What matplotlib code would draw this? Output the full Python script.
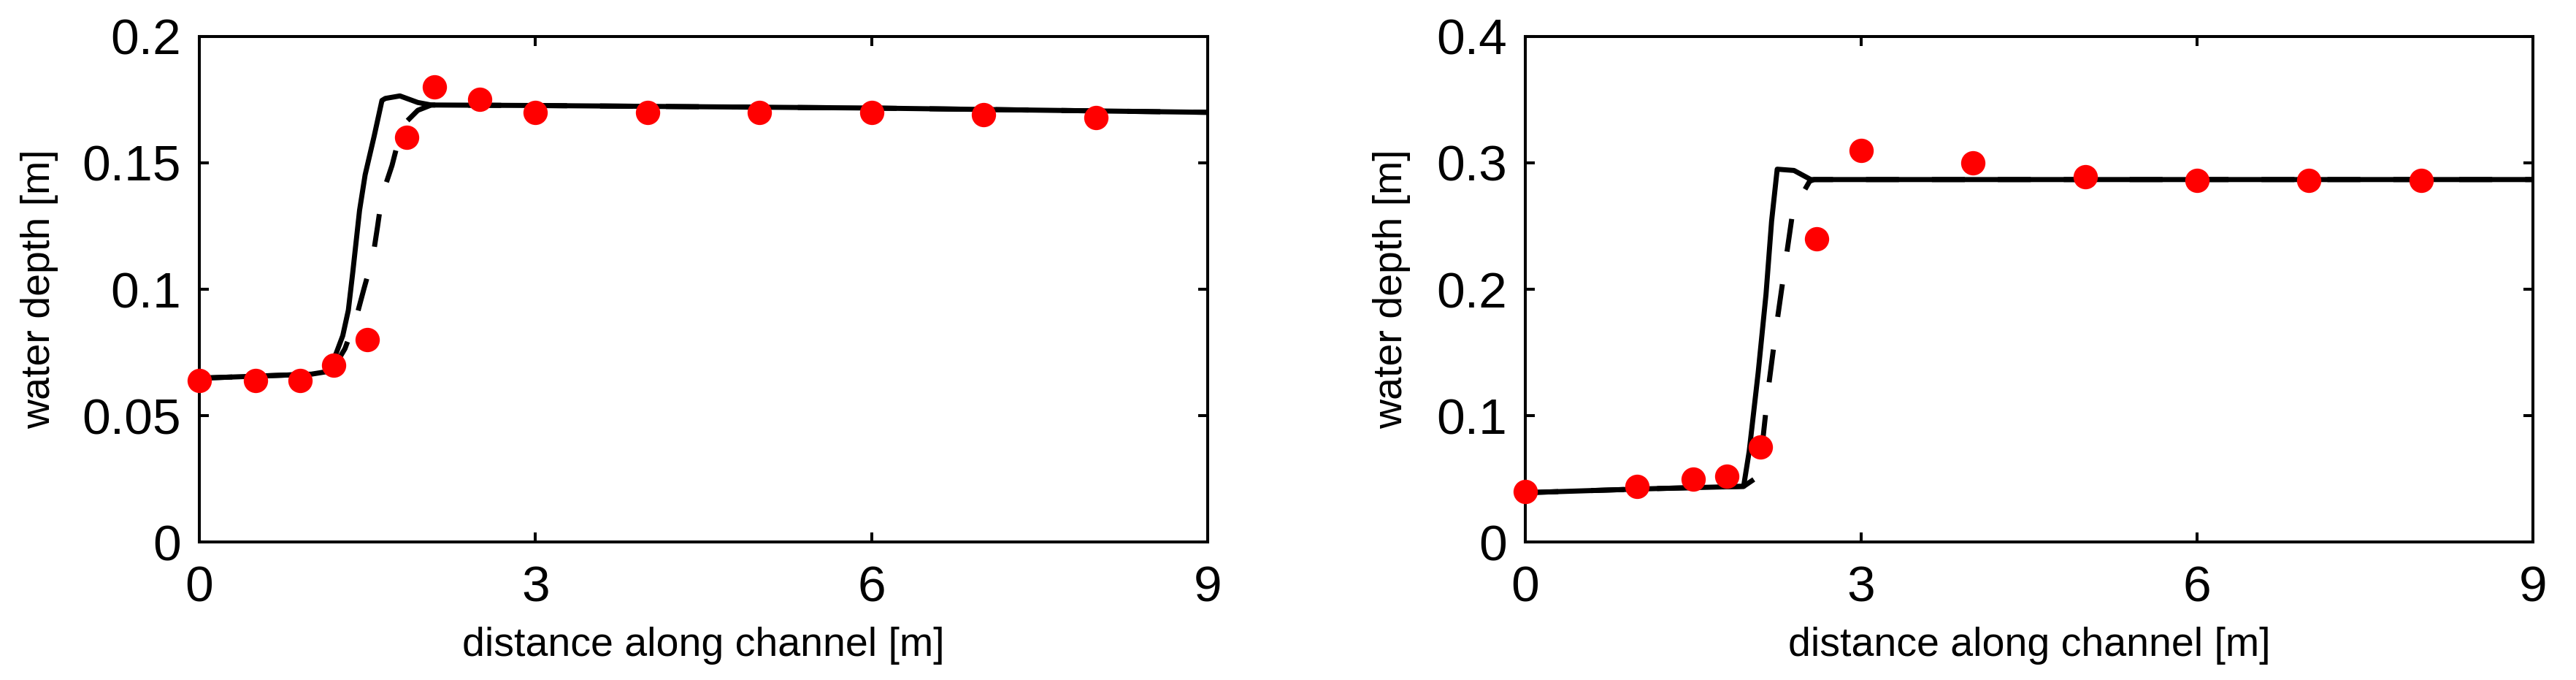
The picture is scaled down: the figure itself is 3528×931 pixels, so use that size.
import matplotlib
matplotlib.use("Agg")
import matplotlib.pyplot as plt

plt.rcParams['font.family'] = ['Liberation Sans', 'DejaVu Sans']

# left case: measured depths (red dots)
x_obs_a = [0, 0.5, 0.9, 1.2, 1.5, 1.85, 2.1, 2.5, 3, 4, 5, 6, 7, 8]
h_obs_a = [0.064, 0.064, 0.064, 0.070, 0.080, 0.160, 0.180, 0.175,
           0.170, 0.170, 0.170, 0.170, 0.169, 0.168]

# left case: model (solid)
x_sol_a = [0, 1.0, 1.14, 1.22, 1.28, 1.33, 1.37, 1.43, 1.48, 1.56, 1.63,
           1.66, 1.79, 1.95, 2.07, 3, 6, 9]
h_sol_a = [0.0648, 0.0664, 0.0674, 0.0745, 0.0816, 0.0917, 0.1069, 0.1312,
           0.1453, 0.1605, 0.1747, 0.1755, 0.1765, 0.1739, 0.1729, 0.1727,
           0.1717, 0.1700]

# left case: model (dashed)
x_dsh_a = [0, 1.0, 1.2, 1.3, 1.4, 1.47, 1.55, 1.59, 1.63, 1.72, 1.81, 1.95,
           2.07, 3, 6, 9]
h_dsh_a = [0.0648, 0.0664, 0.0690, 0.0765, 0.0887, 0.1003, 0.113, 0.1246,
           0.137, 0.149, 0.1646, 0.1708, 0.1729, 0.1727, 0.1717, 0.1700]

# right case: measured depths
x_obs_b = [0, 1.0, 1.5, 1.8, 2.1, 2.6, 3, 4, 5, 6, 7, 8]
h_obs_b = [0.040, 0.044, 0.050, 0.052, 0.075, 0.240, 0.310, 0.300,
           0.289, 0.286, 0.286, 0.286]

# right case: model (solid)
x_sol_b = [0, 1.06, 1.95, 2.0, 2.08, 2.15, 2.20, 2.25, 2.40, 2.55, 3, 9]
h_sol_b = [0.039, 0.042, 0.044, 0.0718, 0.134, 0.196, 0.254, 0.295, 0.294,
           0.2868, 0.2868, 0.2868]

# right case: model (dashed)
x_dsh_b = [0, 1.06, 1.95, 2.05, 2.12, 2.17, 2.24, 2.32, 2.39, 2.42, 2.54,
           2.58, 3, 9]
h_dsh_b = [0.039, 0.042, 0.044, 0.050, 0.0795, 0.121, 0.169, 0.219, 0.262,
           0.267, 0.2855, 0.2868, 0.2868, 0.2868]

x_ticks = [0, 3, 6, 9]
y_ticks_a = [0, 0.05, 0.1, 0.15, 0.2]
y_tick_labels_a = ['0', '0.05', '0.1', '0.15', '0.2']
y_ticks_b = [0, 0.1, 0.2, 0.3, 0.4]
y_tick_labels_b = ['0', '0.1', '0.2', '0.3', '0.4']

W, H = 3528, 931
fig = plt.figure(figsize=(W / 100, H / 100), dpi=100)

panels = [
    dict(rect=[273 / W, 0.2030, 1381 / W, 0.7433], ylim=0.2,
         yt=y_ticks_a, ytl=y_tick_labels_a, ylab_x=-0.1398,
         obs=(x_obs_a, h_obs_a), sol=(x_sol_a, h_sol_a), dsh=(x_dsh_a, h_dsh_a)),
    dict(rect=[2089 / W, 0.2030, 1380 / W, 0.7433], ylim=0.4,
         yt=y_ticks_b, ytl=y_tick_labels_b, ylab_x=-0.1138,
         obs=(x_obs_b, h_obs_b), sol=(x_sol_b, h_sol_b), dsh=(x_dsh_b, h_dsh_b)),
]

for p in panels:
    ax = fig.add_axes(p['rect'])
    ax.plot(*p['dsh'], color='black', lw=5, linestyle=(0, (6.5, 6.5)),
            solid_joinstyle='round', zorder=2)
    ax.plot(*p['sol'], color='black', lw=5, solid_joinstyle='round', zorder=3)
    ax.plot(*p['obs'], 'o', color='#ff0000', markersize=24,
            markeredgewidth=0, zorder=4, clip_on=False)

    ax.set_xlim(0, 9)
    ax.set_ylim(0, p['ylim'])
    ax.set_xticks(x_ticks)
    ax.set_xticklabels([str(t) for t in x_ticks])
    ax.set_yticks(p['yt'])
    ax.set_yticklabels(p['ytl'])

    for s in ax.spines.values():
        s.set_linewidth(2.9)
    ax.tick_params(axis='both', direction='in', top=True, right=True,
                   length=9.5, width=2.9, labelsize=50)
    ax.tick_params(axis='y', pad=18)
    ax.tick_params(axis='x', pad=23)

    ax.set_xlabel('distance along channel [m]', fontsize=40)
    ax.set_ylabel('water depth [m]', fontsize=40)
    ax.xaxis.set_label_coords(0.5, -0.168)
    ax.yaxis.set_label_coords(p['ylab_x'], 0.5)

fig.savefig('out.png', dpi=100, facecolor='white')
